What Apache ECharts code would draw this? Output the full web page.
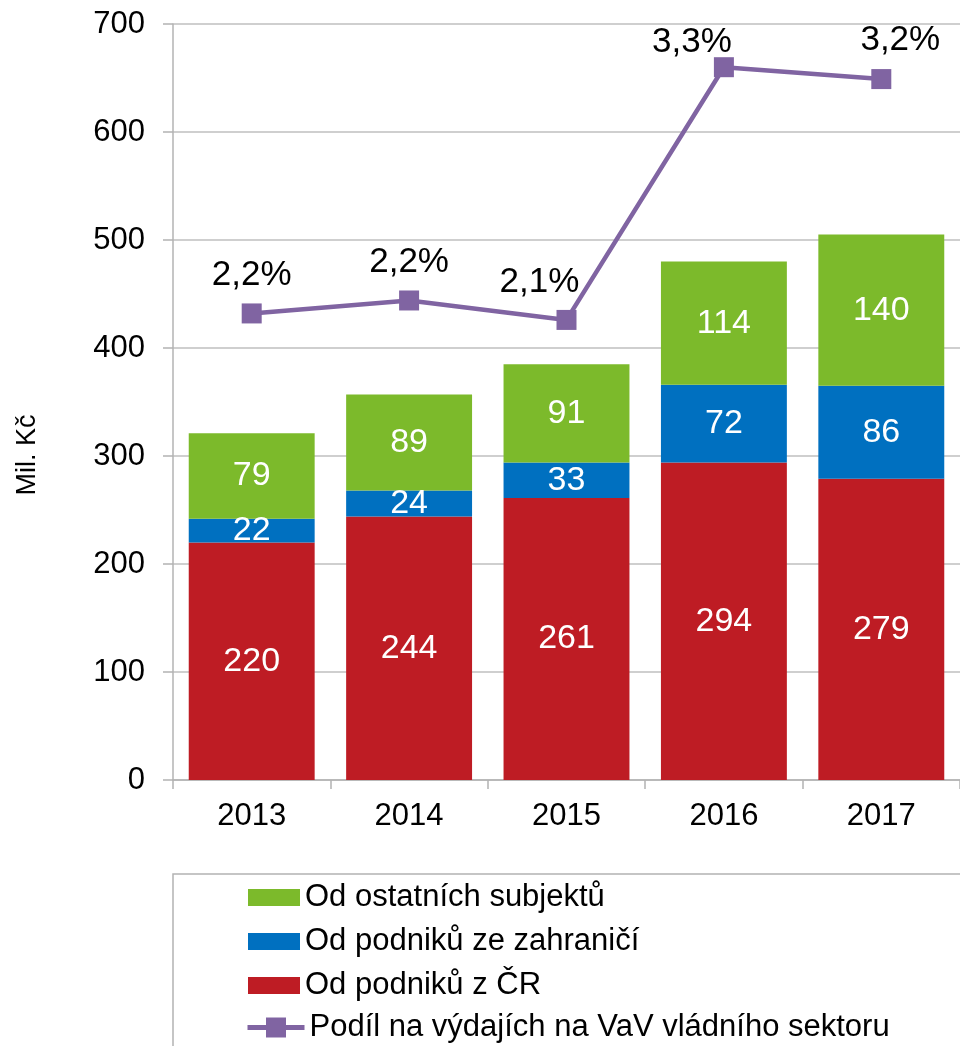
<!DOCTYPE html>
<html>
<head>
<meta charset="utf-8">
<script src="https://cdn.jsdelivr.net/npm/echarts@6/dist/echarts.min.js"></script>
<style>
  html, body { margin: 0; padding: 0; background: #fff; }
  #chart { width: 960px; height: 1046px; }
</style>
</head>
<body>
<div id="chart"></div>
<script>
/* ========== data ========== */
const years = ["2013", "2014", "2015", "2016", "2017"];
const odPodnikuCR = [220, 244, 261, 294, 279];
const odPodnikuZahranici = [22, 24, 33, 72, 86];
const odOstatnich = [79, 89, 91, 114, 140];
const podilVaV = [2.16, 2.22, 2.13, 3.30, 3.245]; // %
const yTicks = [0, 100, 200, 300, 400, 500, 600, 700];

const names = [
    "Od ostatních subjektů",
    "Od podniků ze zahraničí",
    "Od podniků z ČR",
    "Podíl na výdajích na VaV vládního sektoru",
];

const FONT = "'Liberation Sans', Arial, sans-serif";
const GRID_COLOR = "#BFBFBF";
const AXIS_COLOR = "#B3B3B3";
const LINE_COLOR = "#8064A2";

// posun popisků u čáry (ručně podle obrázku)
const lineLabelOffsets = [[0, 0], [0, 0], [-27, 1], [-32, 14], [19, 0]];

function barSeries(name, data, color) {
    return {
        name: name,
        type: "bar",
        stack: "total",
        barCategoryGap: "20%",
        itemStyle: { color: color },
        label: {
            show: true,
            position: "inside",
            color: "#fff",
            fontFamily: FONT,
            fontSize: 34,
        },
        emphasis: { disabled: true },
        data: data,
    };
}

const legendText = { color: "#000", fontFamily: FONT, fontSize: 31 };

const chart = echarts.init(document.getElementById("chart"));
chart.setOption({
    animation: false,
    grid: { left: 173, top: 24, width: 790, height: 756 },
    xAxis: {
        type: "category",
        data: years,
        axisLine: { lineStyle: { color: AXIS_COLOR, width: 1.5 } },
        axisTick: { show: true, length: 9, lineStyle: { color: AXIS_COLOR, width: 1.5 } },
        axisLabel: { color: "#000", fontFamily: FONT, fontSize: 31, margin: 21 },
    },
    yAxis: [{
        type: "value",
        min: yTicks[0],
        max: yTicks[yTicks.length - 1],
        interval: 100,
        axisLine: { show: true, lineStyle: { color: AXIS_COLOR, width: 1.5 } },
        axisTick: { show: true, length: 10, lineStyle: { color: AXIS_COLOR, width: 1.5 } },
        splitLine: { lineStyle: { color: GRID_COLOR, width: 1.5 } },
        axisLabel: { color: "#000", fontFamily: FONT, fontSize: 31, margin: 28 },
    }, {
        type: "value",
        min: 0,
        max: 3.5,
        show: false,
    }],
    legend: [{
        // sloupce
        orient: "vertical",
        left: 248,
        top: 882,
        height: 300,
        padding: 0,
        itemWidth: 52,
        itemHeight: 17,
        itemGap: 13,
        data: [
            { name: names[0], icon: "rect" },
            { name: names[1], icon: "rect" },
            { name: names[2], icon: "rect" },
        ],
        textStyle: legendText,
    }, {
        // čára
        orient: "vertical",
        left: 245,
        top: 1012,
        height: 100,
        padding: 0,
        itemWidth: 57,
        itemHeight: 25,
        data: [{ name: names[3], lineStyle: { width: 5 } }],
        textStyle: legendText,
    }],
    graphic: [{
        type: "rect",
        shape: { x: 173, y: 874, width: 900, height: 300 },
        style: { fill: "none", stroke: AXIS_COLOR, lineWidth: 1.5 },
        silent: true,
    }, {
        type: "text",
        x: 28,
        y: 455,
        rotation: Math.PI / 2,
        style: {
            text: "Mil. Kč",
            font: "27px " + FONT,
            fill: "#000",
            align: "center",
            verticalAlign: "middle",
        },
    }],
    series: [
        barSeries(names[2], odPodnikuCR, "#BE1C24"),
        barSeries(names[1], odPodnikuZahranici, "#0070C0"),
        barSeries(names[0], odOstatnich, "#7CBA2B"),
        {
            name: names[3],
            type: "line",
            yAxisIndex: 1,
            symbol: "rect",
            symbolSize: 20,
            itemStyle: { color: LINE_COLOR },
            lineStyle: { color: LINE_COLOR, width: 4.5 },
            label: {
                show: true,
                position: "top",
                distance: 11,
                color: "#000",
                fontFamily: FONT,
                fontSize: 35,
                formatter: p => p.value.toFixed(1).replace(".", ",") + "%",
            },
            emphasis: { disabled: true },
            data: podilVaV.map((v, i) => ({
                value: v,
                label: { offset: lineLabelOffsets[i] },
            })),
        },
    ],
});
</script>
</body>
</html>
